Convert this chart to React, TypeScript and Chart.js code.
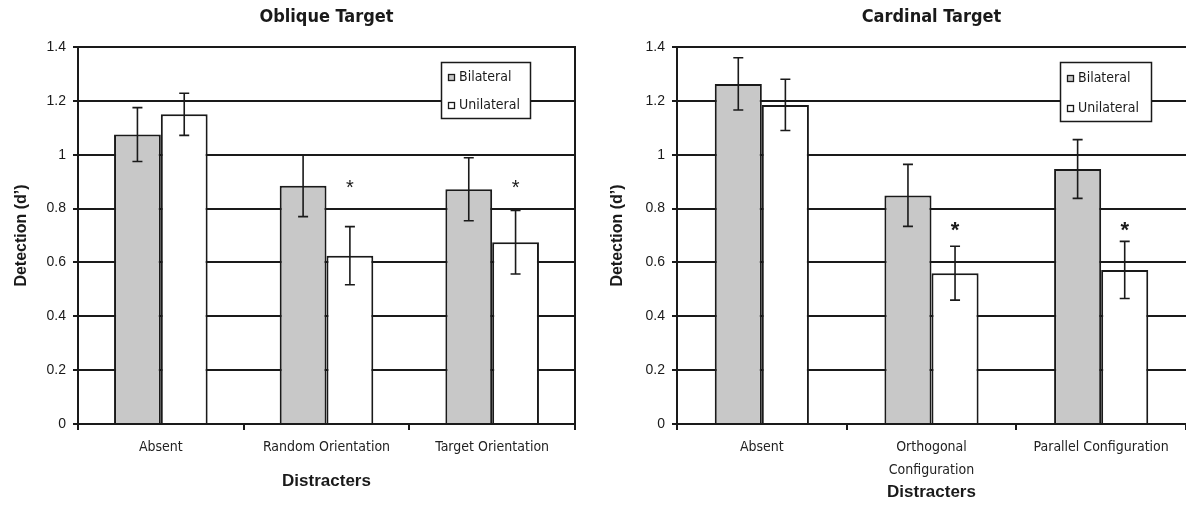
import React, { useEffect, useRef } from "react";
import { Chart, registerables } from "chart.js";

Chart.register(...registerables);

// ---------- data ----------
const seriesNames = ["Bilateral", "Unilateral"];
const yMin = 0;
const yMax = 1.4;
const yStep = 0.2;

const obliqueCategories = ["Absent", "Random Orientation", "Target Orientation"];
const obliqueBilateral = [1.075, 0.885, 0.872];
const obliqueBilateralErr = [0.1, 0.115, 0.117];
const obliqueUnilateral = [1.15, 0.625, 0.675];
const obliqueUnilateralErr = [0.078, 0.108, 0.118];
const obliqueStars = [null, 0.89, 0.89];

const cardinalCategories = ["Absent", ["Orthogonal", "Configuration"], "Parallel Configuration"];
const cardinalBilateral = [1.263, 0.849, 0.947];
const cardinalBilateralErr = [0.097, 0.115, 0.109];
const cardinalUnilateral = [1.185, 0.56, 0.572];
const cardinalUnilateralErr = [0.095, 0.1, 0.106];
const cardinalStars = [null, 0.735, 0.735];

// ---------- styles ----------
const NARROW = "'Liberation Sans Narrow', 'DejaVu Sans Condensed', 'Arial Narrow', sans-serif";
const SANS = "'Liberation Sans', Arial, sans-serif";
const INK = "#1a1a1a";
const BILATERAL_FILL = "#c8c8c8";
const UNILATERAL_FILL = "#ffffff";

const errorBarPlugin = {
  id: "errorBars",
  afterDatasetsDraw(chart: any) {
    const { ctx } = chart;
    const y = chart.scales.y;
    ctx.save();
    ctx.strokeStyle = INK;
    ctx.lineWidth = 1.6;
    chart.data.datasets.forEach((ds: any, i: number) => {
      const meta = chart.getDatasetMeta(i);
      meta.data.forEach((bar: any, j: number) => {
        const v = ds.data[j];
        const e = ds.errors[j];
        const top = y.getPixelForValue(v + e);
        const bot = y.getPixelForValue(v - e);
        const cap = 5;
        ctx.beginPath();
        ctx.moveTo(bar.x, top);
        ctx.lineTo(bar.x, bot);
        ctx.moveTo(bar.x - cap, top);
        ctx.lineTo(bar.x + cap, top);
        ctx.moveTo(bar.x - cap, bot);
        ctx.lineTo(bar.x + cap, bot);
        ctx.stroke();
      });
    });
    ctx.restore();
  },
};

const extrasPlugin = {
  id: "extras",
  afterDraw(chart: any, _args: any, opts: any) {
    const { ctx, chartArea } = chart;
    const y = chart.scales.y;
    ctx.save();
    // right border
    if (opts.rightBorder) {
      ctx.strokeStyle = INK;
      ctx.lineWidth = 2;
      ctx.beginPath();
      ctx.moveTo(chartArea.right, chartArea.top - 1);
      ctx.lineTo(chartArea.right, chartArea.bottom + 6);
      ctx.stroke();
    }
    // stars over unilateral bars
    const meta = chart.getDatasetMeta(1);
    ctx.fillStyle = INK;
    ctx.font = opts.starFont;
    ctx.textAlign = "center";
    ctx.textBaseline = "middle";
    (opts.stars as (number | null)[]).forEach((s, j) => {
      if (s == null) return;
      ctx.fillText("*", meta.data[j].x, y.getPixelForValue(s) + opts.starShift);
    });
    // legend box
    const L = opts.legend;
    ctx.fillStyle = "#fff";
    ctx.fillRect(L.x, L.y, L.w, L.h);
    ctx.strokeStyle = INK;
    ctx.lineWidth = 1.5;
    ctx.strokeRect(L.x + 0.5, L.y + 0.5, L.w, L.h);
    ctx.font = L.font;
    ctx.textAlign = "left";
    ctx.textBaseline = "middle";
    chart.data.datasets.forEach((ds: any, i: number) => {
      const cy = L.y + L.rows[i];
      ctx.fillStyle = ds.backgroundColor;
      ctx.fillRect(L.x + 7, cy - 3, 7, 7);
      ctx.strokeStyle = INK;
      ctx.lineWidth = 1.3;
      ctx.strokeRect(L.x + 7.5, cy - 2.5, 6, 6);
      ctx.fillStyle = INK;
      ctx.fillText(ds.label, L.x + 18, cy);
    });
    ctx.restore();
  },
};

function makeConfig(p: any) {
  return {
    type: "bar",
    data: {
      labels: p.categories,
      datasets: [
        {
          label: seriesNames[0],
          data: p.bilateral,
          errors: p.bilateralErr,
          backgroundColor: BILATERAL_FILL,
          borderColor: INK,
          borderWidth: 2,
          categoryPercentage: p.catPct,
          barPercentage: 1,
        },
        {
          label: seriesNames[1],
          data: p.unilateral,
          errors: p.unilateralErr,
          backgroundColor: UNILATERAL_FILL,
          borderColor: INK,
          borderWidth: 2,
          categoryPercentage: p.catPct,
          barPercentage: 1,
        },
      ],
    },
    plugins: [errorBarPlugin, extrasPlugin],
    options: {
      animation: false,
      responsive: false,
      devicePixelRatio: 1,
      layout: { padding: { left: 0, right: p.padRight, top: 0, bottom: 0 } },
      plugins: {
        legend: { display: false },
        tooltip: { enabled: false },
        title: {
          display: true,
          text: p.title,
          fullSize: false,
          color: INK,
          font: { family: NARROW, size: 18, weight: "bold" },
          padding: { top: 7, bottom: 18.4 },
        },
        extras: {
          rightBorder: p.rightBorder,
          stars: p.stars,
          starFont: p.starFont,
          starShift: p.starShift,
          legend: p.legend,
        },
      },
      scales: {
        x: {
          type: "category",
          offset: true,
          grid: {
            display: true,
            drawOnChartArea: false,
            drawTicks: true,
            tickLength: 6,
            color: INK,
            lineWidth: 2,
            offset: true,
          },
          border: { display: true, color: INK, width: 2 },
          ticks: {
            color: "#222",
            font: { family: NARROW, size: 14, lineHeight: p.tickLineHeight },
            padding: p.xTickPad,
            maxRotation: 0,
            minRotation: 0,
            autoSkip: false,
          },
          title: {
            display: true,
            text: "Distracters",
            color: INK,
            font: { family: SANS, size: 17, weight: "bold" },
            padding: { top: 0, bottom: p.xTitlePadBottom },
          },
          afterFit: (s: any) => {
            s.height = 81;
          },
        },
        y: {
          min: yMin,
          max: yMax,
          grid: {
            color: INK,
            lineWidth: 2,
            drawTicks: true,
            tickLength: 5,
          },
          border: { display: true, color: INK, width: 2 },
          ticks: {
            stepSize: yStep,
            color: "#1a1a1a",
            padding: 7,
            font: { family: SANS, size: 14 },
            callback: (v: any) => String(Number(Number(v).toFixed(1))),
          },
          title: {
            display: true,
            text: "Detection (d\u2019)",
            color: INK,
            font: { family: SANS, size: 16, weight: "bold" },
            padding: { top: p.yTitlePadTop, bottom: 0 },
          },
          afterFit: (s: any) => {
            s.width = p.yWidth;
          },
        },
      },
    },
  };
}

function ChartPanel({ params, left, width }: { params: any; left: number; width: number }) {
  const ref = useRef<HTMLCanvasElement | null>(null);
  useEffect(() => {
    if (!ref.current) return;
    const chart = new Chart(ref.current, makeConfig(params) as any);
    return () => chart.destroy();
  }, []);
  return (
    <canvas
      ref={ref}
      width={width}
      height={505}
      style={{ position: "absolute", left, top: 0, width, height: 505, display: "block" }}
    />
  );
}

const leftParams = {
  title: "Oblique Target",
  categories: obliqueCategories,
  bilateral: obliqueBilateral,
  bilateralErr: obliqueBilateralErr,
  unilateral: obliqueUnilateral,
  unilateralErr: obliqueUnilateralErr,
  stars: obliqueStars,
  catPct: 0.565,
  padRight: 15,
  yWidth: 78,
  yTitlePadTop: 12,
  rightBorder: true,
  tickLineHeight: 1.2,
  xTickPad: 9,
  xTitlePadBottom: 13,
  starFont: `20px ${SANS}`,
  starShift: 4,
  legend: { x: 441, y: 62, w: 89, h: 56, rows: [15, 43], font: `14px ${NARROW}` },
};

const rightParams = {
  title: "Cardinal Target",
  categories: cardinalCategories,
  bilateral: cardinalBilateral,
  bilateralErr: cardinalBilateralErr,
  unilateral: cardinalUnilateral,
  unilateralErr: cardinalUnilateralErr,
  stars: cardinalStars,
  catPct: 0.555,
  padRight: 0,
  yWidth: 87,
  yTitlePadTop: 18,
  rightBorder: false,
  tickLineHeight: 1.6,
  xTickPad: 6.6,
  xTitlePadBottom: 2,
  starFont: `bold 22px ${SANS}`,
  starShift: 5,
  legend: { x: 470, y: 62, w: 91, h: 59, rows: [16, 46], font: `14px ${NARROW}` },
};

export default function App() {
  return (
    <div
      style={{
        position: "fixed",
        left: 0,
        top: 0,
        width: 1186,
        height: 505,
        background: "#fff",
        overflow: "hidden",
      }}
    >
      <ChartPanel params={leftParams} left={0} width={590} />
      <ChartPanel params={rightParams} left={590} width={596} />
    </div>
  );
}
